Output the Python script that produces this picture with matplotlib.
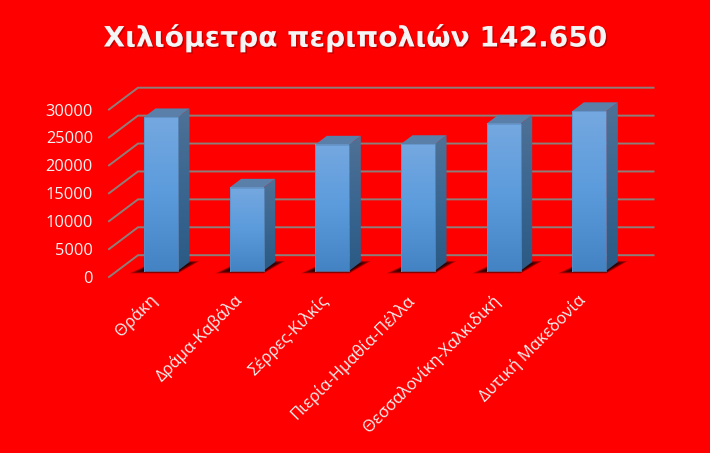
import numpy as np
import matplotlib
matplotlib.use('Agg')
import matplotlib.pyplot as plt
import matplotlib.patheffects as pe
from matplotlib.colors import LinearSegmentedColormap
from matplotlib.patches import Polygon

# data
categories = ['Θράκη', 'Δράμα-Καβάλα', 'Σέρρες-Κιλκίς', 'Πιερία-Ημαθία-Πέλλα',
              'Θεσσαλονίκη-Χαλκιδική', 'Δυτική Μακεδονία']
values = [27500, 14900, 22600, 22700, 26350, 28600]
y_ticks = [0, 5000, 10000, 15000, 20000, 25000, 30000]
title = 'Χιλιόμετρα περιπολιών 142.650'

RED = '#ff0000'
GRID = '#8c7f7a'
LABEL = '#f2f2f2'

# one category step and one value unit in pixels
PX_CAT = 85.67
PX_VAL = 167.5 / 30000
X0_PX = 161.0    # centre of first bar
Y0_PX = 270.7    # value 0 in the bar plane
BAR_W = 34.0 / PX_CAT
DEPTH_X = 11.5 / PX_CAT
DEPTH_Y = 8.7 / PX_VAL

fig = plt.figure(figsize=(7.1, 4.53), dpi=100, facecolor=RED)
ax = fig.add_axes([0, 0, 1, 1])
ax.axis('off')

# gridlines: floor diagonal then along the back wall
fx0, fy0 = (109 - X0_PX) / PX_CAT, (Y0_PX - 277) / PX_VAL
bx0, by0 = (138 - X0_PX) / PX_CAT, (Y0_PX - 255.2) / PX_VAL
rx = (653.5 - X0_PX) / PX_CAT
for t in y_ticks:
    ax.plot([fx0, bx0, rx], [fy0 + t, by0 + t, by0 + t], color=GRID, lw=1.4,
            solid_joinstyle='miter', zorder=1)
    ax.text((93 - X0_PX) / PX_CAT, fy0 + t - 2.0 / PX_VAL, f'{t}', color=LABEL,
            ha='right', va='center', fontsize=11.8, family='Open Sans')

front_cmap = LinearSegmentedColormap.from_list('front', ['#75a8e0', '#5b9bdc', '#4483c3'])
side_cmap = LinearSegmentedColormap.from_list('side', ['#4f7196', '#3a6690', '#2a5a85'])
grad = np.linspace(0, 1, 256).reshape(-1, 1)

for i, v in enumerate(values):
    left = i - BAR_W / 2
    right = i + BAR_W / 2

    # soft shadow on the floor
    for k in range(14):
        g = (13 - k) * 1.0 / PX_CAT
        h = (13 - k) * 0.22 / PX_VAL
        ax.add_patch(Polygon([(left - 1.0 * g - 2 / PX_CAT, -h), (right, -h),
                              (right + DEPTH_X + 0.8 * g, DEPTH_Y * 0.8 + h),
                              (left + DEPTH_X, DEPTH_Y * 0.8 + h)],
                             closed=True, fc='black', ec='none', alpha=0.11, zorder=2))

    # front face
    ax.imshow(grad, cmap=front_cmap, aspect='auto', zorder=3,
              extent=(left, right, 0, v), origin='upper')
    # side face
    side = Polygon([(right, 0), (right + DEPTH_X, DEPTH_Y),
                    (right + DEPTH_X, v + DEPTH_Y), (right, v)],
                   closed=True, fc='none', ec='none', zorder=3)
    ax.add_patch(side)
    im2 = ax.imshow(grad, cmap=side_cmap, aspect='auto', zorder=3,
                    extent=(right, right + DEPTH_X, 0, v + DEPTH_Y), origin='upper')
    im2.set_clip_path(side)
    # top face
    ax.add_patch(Polygon([(left, v), (right, v), (right + DEPTH_X, v + DEPTH_Y),
                          (left + DEPTH_X, v + DEPTH_Y)],
                         closed=True, fc='#5a7fa9', ec='none', zorder=3))
    # thin edge round the front
    ax.plot([left, left, right, right, left], [0, v, v, 0, 0], color='#5f8fc4',
            lw=0.5, zorder=4)

    # category label, rotated, ends under the bar
    ax.text(i - 12 / PX_CAT, -21 / PX_VAL, categories[i], color=LABEL, rotation=45,
            rotation_mode='anchor', ha='right', va='top', fontsize=12,
            family='Open Sans')

ax.set_xlim(-X0_PX / PX_CAT, (710 - X0_PX) / PX_CAT)
ax.set_ylim(-(453 - Y0_PX) / PX_VAL, Y0_PX / PX_VAL)

fig.text(355 / 710, 1 - 38 / 453, title, color='#f5f5f5', ha='center', va='center',
         fontsize=20.2, fontweight='bold', family='DejaVu Sans',
         path_effects=[pe.withSimplePatchShadow(offset=(1, -1), shadow_rgbFace='#800000', alpha=0.5)])

fig.savefig('out.png', dpi=100, facecolor=RED)
